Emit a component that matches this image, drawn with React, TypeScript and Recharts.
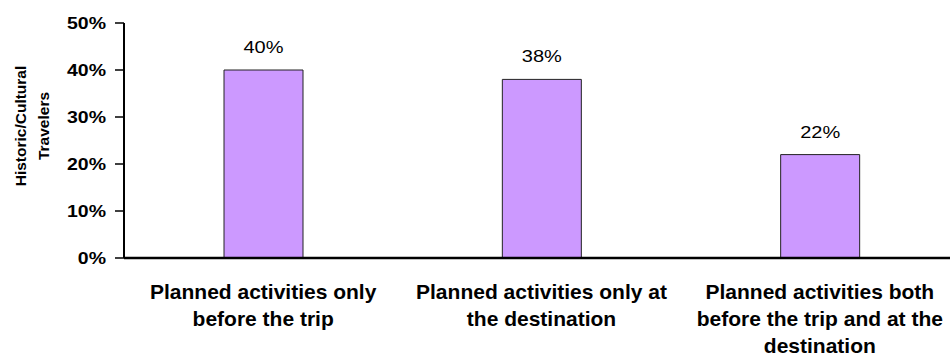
import React from 'react';
import { BarChart, Bar, XAxis, YAxis, LabelList } from 'recharts';

const categories = [
  'Planned activities only before the trip',
  'Planned activities only at the destination',
  'Planned activities both before the trip and at the destination',
];
const categoryLines = [
  ['Planned activities only', 'before the trip'],
  ['Planned activities only at', 'the destination'],
  ['Planned activities both', 'before the trip and at the', 'destination'],
];
const values = [40, 38, 22];
const yTicks = [0, 10, 20, 30, 40, 50];
const yTitleLines = ['Historic/Cultural', 'Travelers'];

const data = categories.map((c, i) => ({ name: c, value: values[i] }));

const FONT = 'Arial, "Liberation Sans", Helvetica, sans-serif';

function YTick(props: any) {
  const { x, y, payload } = props;
  return (
    <g transform={`translate(${x},${y}) scale(1,0.85)`}>
      <text x={0} y={0} dy="0.36em" textAnchor="end" fontFamily={FONT} fontWeight="bold" fontSize={19.5} fill="#000">
        {payload.value}%
      </text>
    </g>
  );
}

function XTick(props: any) {
  const { x, y, payload } = props;
  const idx = categories.indexOf(payload.value);
  const lines = categoryLines[idx] || [payload.value];
  return (
    <g>
      {lines.map((ln, i) => (
        <text key={i} x={x} y={y + 41 + i * 27} textAnchor="middle" fontFamily={FONT} fontWeight="bold" fontSize={21} fill="#000">
          {ln}
        </text>
      ))}
    </g>
  );
}

function ValueLabel(props: any) {
  const { x, y, width, value } = props;
  const cx = x + width / 2;
  return (
    <g transform={`translate(${cx},${y - 17}) scale(1,0.85)`}>
      <text x={0} y={0} textAnchor="middle" fontFamily={FONT} fontSize={20} fill="#000">
        {value}%
      </text>
    </g>
  );
}

function YTitle() {
  const xs = [20, 43];
  return (
    <g>
      {yTitleLines.map((ln, i) => (
        <g key={i} transform={`translate(${xs[i]},126) rotate(-90)`}>
          <text x={0} y={0} dy="0.36em" textAnchor="middle" fontFamily={FONT} fontWeight="bold" fontSize={15.5} fill="#000">
            {ln}
          </text>
        </g>
      ))}
    </g>
  );
}

export default function App() {
  return (
    <div style={{ position: 'absolute', left: 0, top: 0, width: 950, height: 356, background: '#fff' }}>
      <BarChart width={950} height={356} data={data} margin={{ top: 23, right: -9, left: 0, bottom: 0 }}>
        <XAxis
          dataKey="name"
          interval={0}
          tickLine={false}
          tickSize={0}
          tickMargin={0}
          height={98}
          axisLine={{ stroke: '#000', strokeWidth: 2.5 }}
          tick={<XTick />}
        />
        <YAxis
          width={124}
          domain={[0, 50]}
          ticks={yTicks}
          interval={0}
          tickSize={9}
          tickMargin={9}
          axisLine={{ stroke: '#000', strokeWidth: 2 }}
          tickLine={{ stroke: '#000', strokeWidth: 1.5 }}
          tick={<YTick />}
          label={<YTitle />}
        />
        <Bar dataKey="value" fill="#CC99FF" stroke="#222" strokeWidth={1} barSize={79} isAnimationActive={false}>
          <LabelList dataKey="value" content={<ValueLabel />} />
        </Bar>
      </BarChart>
    </div>
  );
}
